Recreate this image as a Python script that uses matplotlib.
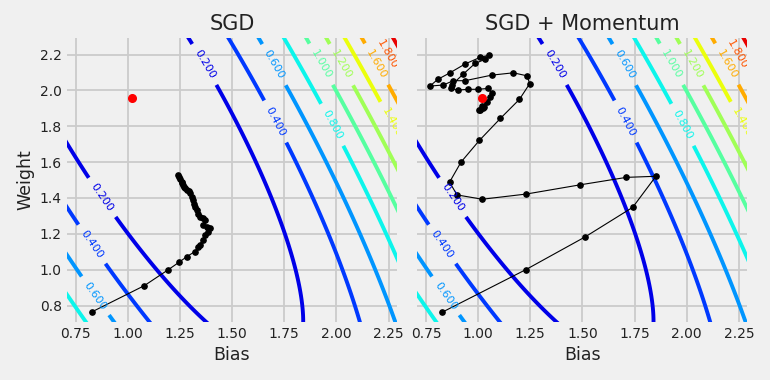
import numpy as np
import matplotlib
matplotlib.use('Agg')
import matplotlib.pyplot as plt
from matplotlib.colors import Normalize
from matplotlib.ticker import MultipleLocator

# loss surface (MSE of a line fit)
b_min, w_min = 1.02, 1.96          # minimum, red dot
x_mean, x2_mean, loss0 = 0.47, 0.309, 0.008
levels = [0.2, 0.4, 0.6, 0.8, 1.0, 1.2, 1.4, 1.6, 1.8, 2.0]

# parameter paths (bias, weight)
sgd_b = [0.830, 1.079, 1.194, 1.246, 1.283, 1.320, 1.338, 1.346, 1.358, 1.370,
         1.386, 1.394, 1.380, 1.362, 1.370, 1.360, 1.346, 1.338, 1.330, 1.322,
         1.318, 1.314, 1.310, 1.298, 1.292, 1.284, 1.276, 1.270, 1.266, 1.262,
         1.259, 1.252, 1.246, 1.242]
sgd_w = [0.766, 0.911, 1.000, 1.042, 1.073, 1.100, 1.125, 1.140, 1.166, 1.194,
         1.212, 1.231, 1.240, 1.249, 1.277, 1.287, 1.296, 1.313, 1.333, 1.352,
         1.365, 1.389, 1.405, 1.426, 1.438, 1.445, 1.455, 1.463, 1.475, 1.482,
         1.491, 1.505, 1.518, 1.528]

mom_b = [0.828, 1.228, 1.513, 1.741, 1.852, 1.711, 1.487, 1.231, 1.020, 0.899,
         0.863, 0.918, 1.006, 1.107, 1.198, 1.247, 1.235, 1.169, 1.065, 0.937,
         0.881, 0.833, 0.769, 0.806, 0.865, 0.937, 1.009, 1.054, 1.033, 0.985,
         0.929, 0.873, 0.868, 0.905, 0.953, 0.998, 1.049, 1.065, 1.059, 1.043,
         1.019, 1.004, 1.010, 1.022, 1.026]
mom_w = [0.763, 1.000, 1.183, 1.348, 1.521, 1.515, 1.473, 1.422, 1.393, 1.417,
         1.488, 1.600, 1.721, 1.844, 1.950, 2.037, 2.081, 2.098, 2.085, 2.054,
         2.054, 2.030, 2.024, 2.061, 2.098, 2.147, 2.184, 2.197, 2.173, 2.150,
         2.091, 2.030, 2.011, 2.002, 2.006, 2.006, 2.011, 1.983, 1.964, 1.937,
         1.913, 1.893, 1.890, 1.900, 1.908]

titles = ['SGD', 'SGD + Momentum']

# where the contour labels sit
label_pos = [(0.878, 1.404), (0.830, 1.144), (0.846, 0.856), (1.370, 2.147),
             (1.706, 2.147), (1.714, 1.831), (1.986, 1.812), (1.933, 2.150),
             (2.029, 2.147), (2.274, 1.825), (2.197, 2.150), (2.253, 2.206)]

bg = '#f0f0f0'
bs = np.linspace(0.6, 2.4, 241)
ws = np.linspace(0.6, 2.4, 241)
B, W = np.meshgrid(bs, ws)
dB, dW = B - b_min, W - w_min
L = loss0 + dB**2 + 2*x_mean*dB*dW + x2_mean*dW**2

fig, axs = plt.subplots(1, 2, figsize=(7.7, 3.8), dpi=100, facecolor=bg)
plt.subplots_adjust(left=0.0866, right=0.9705, bottom=0.1534, top=0.899, wspace=0.0606)

paths = [(sgd_b, sgd_w), (mom_b, mom_w)]
for i, ax in enumerate(axs):
    ax.set_facecolor(bg)
    for s in ax.spines.values():
        s.set_visible(False)
    ax.set_axisbelow(True)
    ax.grid(True, color='#cbcbcb', linewidth=1.3)
    ax.tick_params(length=0, labelsize=10, colors='#222222')

    cs = ax.contour(B, W, L, levels=levels, cmap='jet', norm=Normalize(0, 2.2),
                    linewidths=2.8)
    ax.clabel(cs, inline=True, fontsize=8, fmt='%1.3f', manual=label_pos)

    pb, pw = paths[i]
    ax.plot(pb, pw, '-o', color='k', linewidth=0.8, markersize=3.8, zorder=3)
    ax.plot([b_min], [w_min], 'o', color='r', markersize=5.5, zorder=4)

    ax.set_xlim(0.707, 2.29)
    ax.set_ylim(0.71, 2.29)
    ax.xaxis.set_major_locator(MultipleLocator(0.25))
    ax.yaxis.set_major_locator(MultipleLocator(0.2))
    ax.set_title(titles[i], fontsize=15, color='#222222')
    ax.set_xlabel('Bias', fontsize=12.5, color='#222222')
    if i == 0:
        ax.set_ylabel('Weight', fontsize=12.5, color='#222222')
    else:
        ax.tick_params(labelleft=False)

plt.savefig('out.png', dpi=100, facecolor=bg)
